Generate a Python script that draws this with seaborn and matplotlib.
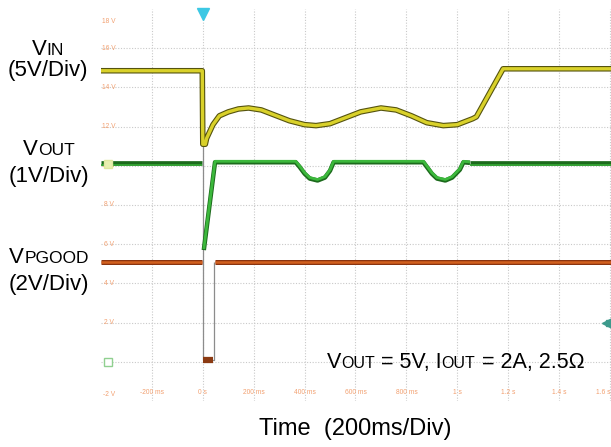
import numpy as np
import pandas as pd
import matplotlib
matplotlib.use("Agg")
import matplotlib.pyplot as plt
from matplotlib.font_manager import FontProperties
import seaborn as sns

# ---------------- data (time in ms, level in screen units: 2 V/div scale) ----------------
vin_t = [-400, -2, 0, 10, 15, 40, 65, 100, 140, 180, 230, 290, 340, 400, 445, 500,
         560, 620, 700, 760, 820, 880, 945, 1000, 1060, 1075, 1180, 1605]
vin_v = [14.85, 14.85, 11.1, 11.1, 11.4, 12.1, 12.55, 12.75, 12.9, 12.95, 12.85, 12.55,
         12.3, 12.1, 12.05, 12.15, 12.45, 12.75, 12.95, 12.85, 12.55, 12.2, 12.05, 12.1,
         12.4, 12.5, 14.95, 14.95]

vout_pre_t = [-400, -2]
vout_pre_v = [10.13, 10.13]
vout_t = [4, 48, 365, 380, 400, 420, 451, 480, 500, 514, 867, 880, 900, 920, 953, 980,
          1010, 1024, 1050]
vout_v = [5.7, 10.18, 10.18, 9.95, 9.6, 9.35, 9.25, 9.4, 9.75, 10.18, 10.18, 9.95, 9.6,
          9.35, 9.25, 9.4, 9.8, 10.18, 10.15]
vout_post_t = [1050, 1605]
vout_post_v = [10.12, 10.12]

pg_pre_t = [-400, -5]
pg_pre_v = [5.1, 5.1]
pg_low_t = [2, 41]
pg_low_v = [0.1, 0.1]
pg_post_t = [46, 1605]
pg_post_v = [5.1, 5.1]

edge_t = [0, 0, 43, 43]
edge_v = [14.85, 0.1, 0.1, 5.1]

ytick_vals = [18, 16, 14, 12, 10, 8, 6, 4, 2, -2]
ytick_labels = ["18 V", "16 V", "14 V", "12 V", "10 V", "8 V", "6 V", "4 V", "2 V", "-2 V"]
xtick_vals = [-200, 0, 200, 400, 600, 800, 1000, 1200, 1400, 1600]
xtick_labels = ["-200 ms", "0 s", "200 ms", "400 ms", "600 ms", "800 ms", "1 s",
                "1.2 s", "1.4 s", "1.6 s"]

# ---------------- figure ----------------
sns.set_theme(style="white")
plt.rcParams["font.family"] = ["Liberation Sans", "DejaVu Sans"]

W, H = 611, 447
fig = plt.figure(figsize=(W / 100, H / 100), dpi=100)
ax = fig.add_axes([101 / W, 1 - 401 / H, 510 / W, 392 / H])
ax.set_xlim(-400, 1604)
ax.set_ylim(-2, 18)
for s in ax.spines.values():
    s.set_visible(False)
ax.set_xticks([])
ax.set_yticks([])

# grid
for x in range(-200, 1601, 200):
    ax.axvline(x, color="#c9c9c9", lw=0.8, ls=(0, (1, 1.5)), zorder=0)
for y in range(0, 17, 2):
    ax.axhline(y, color="#c9c9c9", lw=0.8, ls=(0, (1, 1.5)), zorder=0)

def line(t, v, color, lw, z):
    sns.lineplot(x=t, y=v, ax=ax, color=color, lw=lw, zorder=z, sort=False,
                 estimator=None, solid_capstyle="butt", legend=False)

# thin grey edges
line(edge_t, edge_v, "#8c8c8c", 0.9, 2)

# VIN
line(vin_t, vin_v, "#55530f", 4.0, 3)
line(vin_t, vin_v, "#d9d12a", 2.4, 4)

# VOUT
line(vout_pre_t, vout_pre_v, "#1c6a1c", 3.4, 3)
line(vout_pre_t, [v - 0.08 for v in vout_pre_v], "#35a835", 1.2, 4)
line(vout_t, vout_v, "#1c6a1c", 3.2, 3)
line(vout_t, [v + 0.05 for v in vout_v], "#3cb83c", 2.0, 4)
line(vout_post_t, vout_post_v, "#1c6a1c", 3.4, 3)
line(vout_post_t, [v - 0.08 for v in vout_post_v], "#35a835", 1.2, 4)

# PGOOD
line(pg_pre_t, pg_pre_v, "#8a3410", 3.6, 3)
line(pg_pre_t, pg_pre_v, "#d2601f", 1.8, 4)
line(pg_post_t, pg_post_v, "#8a3410", 3.6, 3)
line(pg_post_t, pg_post_v, "#d2601f", 1.8, 4)
line(pg_low_t, pg_low_v, "#8b3a12", 4.5, 3)

# markers
ax.plot([0], [17.75], marker="v", ms=8, color="#3cc8e4", mec="#3cc8e4", zorder=6, clip_on=False)
ax.plot([1588], [2.0], marker="<", ms=7, color="#3d9a8c", mec="#3d9a8c", zorder=6)
ax.plot([1598], [2.0], marker="s", ms=5, color="#3d9a8c", mec="#3d9a8c", zorder=6, clip_on=False)
ax.plot([-372], [10.1], marker="s", ms=6, color="#e8f0b0", mec="#dfe8a0", zorder=6)
ax.plot([-372], [0.0], marker="s", ms=6, mfc="white", mec="#90d090", mew=1.0, zorder=6)

# scope tick labels
for v, lab in zip(ytick_vals, ytick_labels):
    yy = min(max(v, -1.65), 17.35)
    ax.text(-368, yy, lab, fontsize=4.8, color="#f2a070", ha="center", va="center", zorder=1)
for t, lab in zip(xtick_vals, xtick_labels):
    tt = min(t, 1572)
    ax.text(tt, -1.55, lab, fontsize=4.8, color="#f2a070", ha="center", va="center", zorder=1)

# rich text helper
fig.canvas.draw()
renderer = fig.canvas.get_renderer()

def width_px(s, size):
    fp = FontProperties(family="Liberation Sans", size=size)
    w1, _, _ = renderer.get_text_width_height_descent("|" + s + "|", fp, ismath=False)
    w2, _, _ = renderer.get_text_width_height_descent("||", fp, ismath=False)
    return w1 - w2

def rich(xc, yb, pieces, ha="center"):
    total = sum(width_px(s, sz) for s, sz in pieces)
    x = xc - total / 2 if ha == "center" else xc
    for s, sz in pieces:
        fig.text(x / W, 1 - yb / H, s, fontsize=sz, color="black", ha="left",
                 va="baseline", family="Liberation Sans")
        x += width_px(s, sz)

M, S = 16, 12.5
rich(48, 55, [("V", M), ("IN", S)])
rich(48, 76, [("(5V/Div)", M)])
rich(49, 155, [("V", M), ("OUT", S)])
rich(49, 182, [("(1V/Div)", M)])
rich(49, 263, [("V", M), ("PGOOD", S)])
rich(49, 290, [("(2V/Div)", M)])

rich(327, 368, [("V", 15.5), ("OUT", 11.5), (" = 5V, I", 15.5), ("OUT", 11.5),
                (" = 2A, 2.5\u03a9", 15.5)], ha="left")

rich(355, 435, [("Time  (200ms/Div)", 17)])

fig.savefig("out.png", dpi=100)
